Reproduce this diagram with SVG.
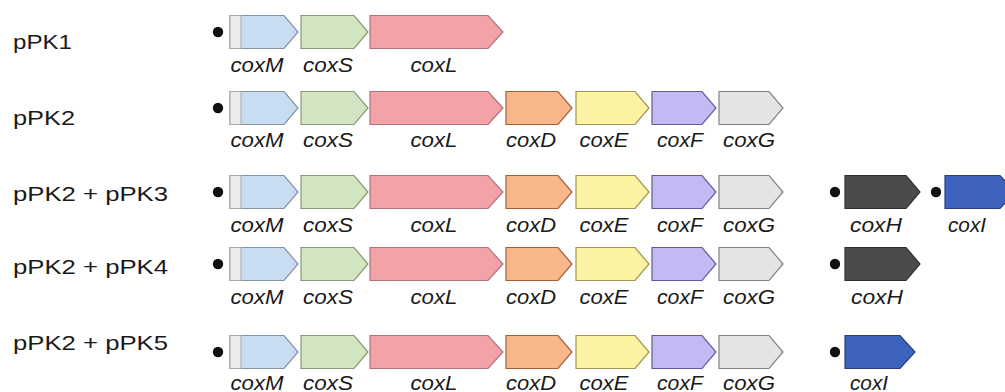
<svg xmlns="http://www.w3.org/2000/svg" xmlns:xlink="http://www.w3.org/1999/xlink" width="1005" height="392" viewBox="0 0 1005 392">
  <style>
    .plasmid { font-family: "Liberation Sans", Arial, sans-serif; font-size: 21px; fill: #1a1a1a; }
    .gene { font-family: "Liberation Sans", Arial, sans-serif; font-size: 19.5px; font-style: italic; fill: #1a1a1a; text-anchor: middle; }
    .arrow { stroke-width: 1.2; stroke-linejoin: miter; }
    .M { fill: #c8ddf1; stroke: #8493a0; }
    .S { fill: #d2e5c2; stroke: #869b74; }
    .L { fill: #f3a3a7; stroke: #b07276; }
    .D { fill: #f8b68a; stroke: #a0603a; }
    .E { fill: #fbf2a2; stroke: #9c9552; }
    .F { fill: #c5b9f3; stroke: #665998; }
    .G { fill: #e4e4e4; stroke: #828282; }
    .H { fill: #4b4b4b; stroke: #2e2e2e; }
    .I { fill: #3d63bf; stroke: #26407e; }
    .band { fill: #ececec; stroke: #a8a8a8; stroke-width: 1; }
    .dot { fill: #111; }
  </style>
  <defs>
    <!-- gene arrow shapes, top edge at y=0, height 33 -->
    <path id="a-M" d="M230,0H284L298,16.5L284,33H230Z"/>
    <path id="a-S" d="M301,0H354L368,16.5L354,33H301Z"/>
    <path id="a-L" d="M370,0H488L503,16.5L488,33H370Z"/>
    <path id="a-D" d="M506,0H558L572,16.5L558,33H506Z"/>
    <path id="a-E" d="M576,0H635L649,16.5L635,33H576Z"/>
    <path id="a-F" d="M652,0H702L716,16.5L702,33H652Z"/>
    <path id="a-G" d="M719,0H769L783,16.5L769,33H719Z"/>
    <path id="a-H" d="M845,0H906L920,16.5L906,33H845Z"/>
    <path id="a-I" d="M845,0H900L915,16.5L900,33H845Z"/>
    <!-- grey leader strip at the start of coxM -->
    <rect id="band" x="230" y="0" width="11" height="33"/>
  </defs>

  <rect width="1005" height="392" fill="#ffffff"/>

  <!-- plasmid names -->
  <g id="names">
    <text class="plasmid" x="13" y="49" textLength="59" lengthAdjust="spacingAndGlyphs">pPK1</text>
    <text class="plasmid" x="13" y="125" textLength="62" lengthAdjust="spacingAndGlyphs">pPK2</text>
    <text class="plasmid" x="13" y="201" textLength="155" lengthAdjust="spacingAndGlyphs">pPK2 + pPK3</text>
    <text class="plasmid" x="13" y="274" textLength="155" lengthAdjust="spacingAndGlyphs">pPK2 + pPK4</text>
    <text class="plasmid" x="13" y="350" textLength="155" lengthAdjust="spacingAndGlyphs">pPK2 + pPK5</text>
  </g>

  <!-- row 1: pPK1 -->
  <g id="row-pPK1" transform="translate(0,15.5)">
    <circle id="r1-promoter" class="dot" cx="218" cy="16.5" r="5.2"/>
    <g id="r1-coxM"><use href="#a-M" class="arrow M"/><use href="#band" class="band"/><text class="gene" x="257" y="56" textLength="53" lengthAdjust="spacingAndGlyphs">coxM</text></g>
    <g id="r1-coxS"><use href="#a-S" class="arrow S"/><text class="gene" x="328" y="56" textLength="50" lengthAdjust="spacingAndGlyphs">coxS</text></g>
    <g id="r1-coxL"><use href="#a-L" class="arrow L"/><text class="gene" x="434" y="56" textLength="47" lengthAdjust="spacingAndGlyphs">coxL</text></g>
  </g>

  <!-- row 2: pPK2 -->
  <g id="row-pPK2" transform="translate(0,91.5)">
    <circle id="r2-promoter" class="dot" cx="218" cy="16.5" r="5.2"/>
    <g id="r2-coxM"><use href="#a-M" class="arrow M"/><use href="#band" class="band"/><text class="gene" x="257" y="55.5" textLength="53" lengthAdjust="spacingAndGlyphs">coxM</text></g>
    <g id="r2-coxS"><use href="#a-S" class="arrow S"/><text class="gene" x="328" y="55.5" textLength="50" lengthAdjust="spacingAndGlyphs">coxS</text></g>
    <g id="r2-coxL"><use href="#a-L" class="arrow L"/><text class="gene" x="434" y="55.5" textLength="47" lengthAdjust="spacingAndGlyphs">coxL</text></g>
    <g id="r2-coxD"><use href="#a-D" class="arrow D"/><text class="gene" x="531" y="55.5" textLength="50" lengthAdjust="spacingAndGlyphs">coxD</text></g>
    <g id="r2-coxE"><use href="#a-E" class="arrow E"/><text class="gene" x="604" y="55.5" textLength="49" lengthAdjust="spacingAndGlyphs">coxE</text></g>
    <g id="r2-coxF"><use href="#a-F" class="arrow F"/><text class="gene" x="680" y="55.5" textLength="46" lengthAdjust="spacingAndGlyphs">coxF</text></g>
    <g id="r2-coxG"><use href="#a-G" class="arrow G"/><text class="gene" x="749" y="55.5" textLength="52" lengthAdjust="spacingAndGlyphs">coxG</text></g>
  </g>

  <!-- row 3: pPK2 + pPK3 -->
  <g id="row-pPK2-pPK3" transform="translate(0,175.5)">
    <circle id="r3-promoter" class="dot" cx="218" cy="16.5" r="5.2"/>
    <g id="r3-coxM"><use href="#a-M" class="arrow M"/><use href="#band" class="band"/><text class="gene" x="257" y="56" textLength="53" lengthAdjust="spacingAndGlyphs">coxM</text></g>
    <g id="r3-coxS"><use href="#a-S" class="arrow S"/><text class="gene" x="328" y="56" textLength="50" lengthAdjust="spacingAndGlyphs">coxS</text></g>
    <g id="r3-coxL"><use href="#a-L" class="arrow L"/><text class="gene" x="434" y="56" textLength="47" lengthAdjust="spacingAndGlyphs">coxL</text></g>
    <g id="r3-coxD"><use href="#a-D" class="arrow D"/><text class="gene" x="531" y="56" textLength="50" lengthAdjust="spacingAndGlyphs">coxD</text></g>
    <g id="r3-coxE"><use href="#a-E" class="arrow E"/><text class="gene" x="604" y="56" textLength="49" lengthAdjust="spacingAndGlyphs">coxE</text></g>
    <g id="r3-coxF"><use href="#a-F" class="arrow F"/><text class="gene" x="680" y="56" textLength="46" lengthAdjust="spacingAndGlyphs">coxF</text></g>
    <g id="r3-coxG"><use href="#a-G" class="arrow G"/><text class="gene" x="749" y="56" textLength="52" lengthAdjust="spacingAndGlyphs">coxG</text></g>
    <circle id="r3-promoter-H" class="dot" cx="835" cy="16.5" r="5.2"/>
    <g id="r3-coxH"><use href="#a-H" class="arrow H"/><text class="gene" x="876" y="56" textLength="52" lengthAdjust="spacingAndGlyphs">coxH</text></g>
    <circle id="r3-promoter-I" class="dot" cx="936" cy="16.5" r="5.2"/>
    <g id="r3-coxI"><use href="#a-I" class="arrow I" transform="translate(100,0)"/><text class="gene" x="967" y="56" textLength="38" lengthAdjust="spacingAndGlyphs">coxI</text></g>
  </g>

  <!-- row 4: pPK2 + pPK4 -->
  <g id="row-pPK2-pPK4" transform="translate(0,247.5)">
    <circle id="r4-promoter" class="dot" cx="218" cy="16.5" r="5.2"/>
    <g id="r4-coxM"><use href="#a-M" class="arrow M"/><use href="#band" class="band"/><text class="gene" x="257" y="56" textLength="53" lengthAdjust="spacingAndGlyphs">coxM</text></g>
    <g id="r4-coxS"><use href="#a-S" class="arrow S"/><text class="gene" x="328" y="56" textLength="50" lengthAdjust="spacingAndGlyphs">coxS</text></g>
    <g id="r4-coxL"><use href="#a-L" class="arrow L"/><text class="gene" x="434" y="56" textLength="47" lengthAdjust="spacingAndGlyphs">coxL</text></g>
    <g id="r4-coxD"><use href="#a-D" class="arrow D"/><text class="gene" x="531" y="56" textLength="50" lengthAdjust="spacingAndGlyphs">coxD</text></g>
    <g id="r4-coxE"><use href="#a-E" class="arrow E"/><text class="gene" x="604" y="56" textLength="49" lengthAdjust="spacingAndGlyphs">coxE</text></g>
    <g id="r4-coxF"><use href="#a-F" class="arrow F"/><text class="gene" x="680" y="56" textLength="46" lengthAdjust="spacingAndGlyphs">coxF</text></g>
    <g id="r4-coxG"><use href="#a-G" class="arrow G"/><text class="gene" x="749" y="56" textLength="52" lengthAdjust="spacingAndGlyphs">coxG</text></g>
    <circle id="r4-promoter-H" class="dot" cx="835" cy="16.5" r="5.2"/>
    <g id="r4-coxH"><use href="#a-H" class="arrow H"/><text class="gene" x="877" y="56" textLength="52" lengthAdjust="spacingAndGlyphs">coxH</text></g>
  </g>

  <!-- row 5: pPK2 + pPK5 -->
  <g id="row-pPK2-pPK5" transform="translate(0,335.5)">
    <circle id="r5-promoter" class="dot" cx="218" cy="16.5" r="5.2"/>
    <g id="r5-coxM"><use href="#a-M" class="arrow M"/><use href="#band" class="band"/><text class="gene" x="257" y="54.5" textLength="53" lengthAdjust="spacingAndGlyphs">coxM</text></g>
    <g id="r5-coxS"><use href="#a-S" class="arrow S"/><text class="gene" x="328" y="54.5" textLength="50" lengthAdjust="spacingAndGlyphs">coxS</text></g>
    <g id="r5-coxL"><use href="#a-L" class="arrow L"/><text class="gene" x="434" y="54.5" textLength="47" lengthAdjust="spacingAndGlyphs">coxL</text></g>
    <g id="r5-coxD"><use href="#a-D" class="arrow D"/><text class="gene" x="531" y="54.5" textLength="50" lengthAdjust="spacingAndGlyphs">coxD</text></g>
    <g id="r5-coxE"><use href="#a-E" class="arrow E"/><text class="gene" x="604" y="54.5" textLength="49" lengthAdjust="spacingAndGlyphs">coxE</text></g>
    <g id="r5-coxF"><use href="#a-F" class="arrow F"/><text class="gene" x="680" y="54.5" textLength="46" lengthAdjust="spacingAndGlyphs">coxF</text></g>
    <g id="r5-coxG"><use href="#a-G" class="arrow G"/><text class="gene" x="749" y="54.5" textLength="52" lengthAdjust="spacingAndGlyphs">coxG</text></g>
    <circle id="r5-promoter-I" class="dot" cx="835" cy="16.5" r="5.2"/>
    <g id="r5-coxI"><use href="#a-I" class="arrow I"/><text class="gene" x="869" y="54.5" textLength="38" lengthAdjust="spacingAndGlyphs">coxI</text></g>
  </g>
</svg>
